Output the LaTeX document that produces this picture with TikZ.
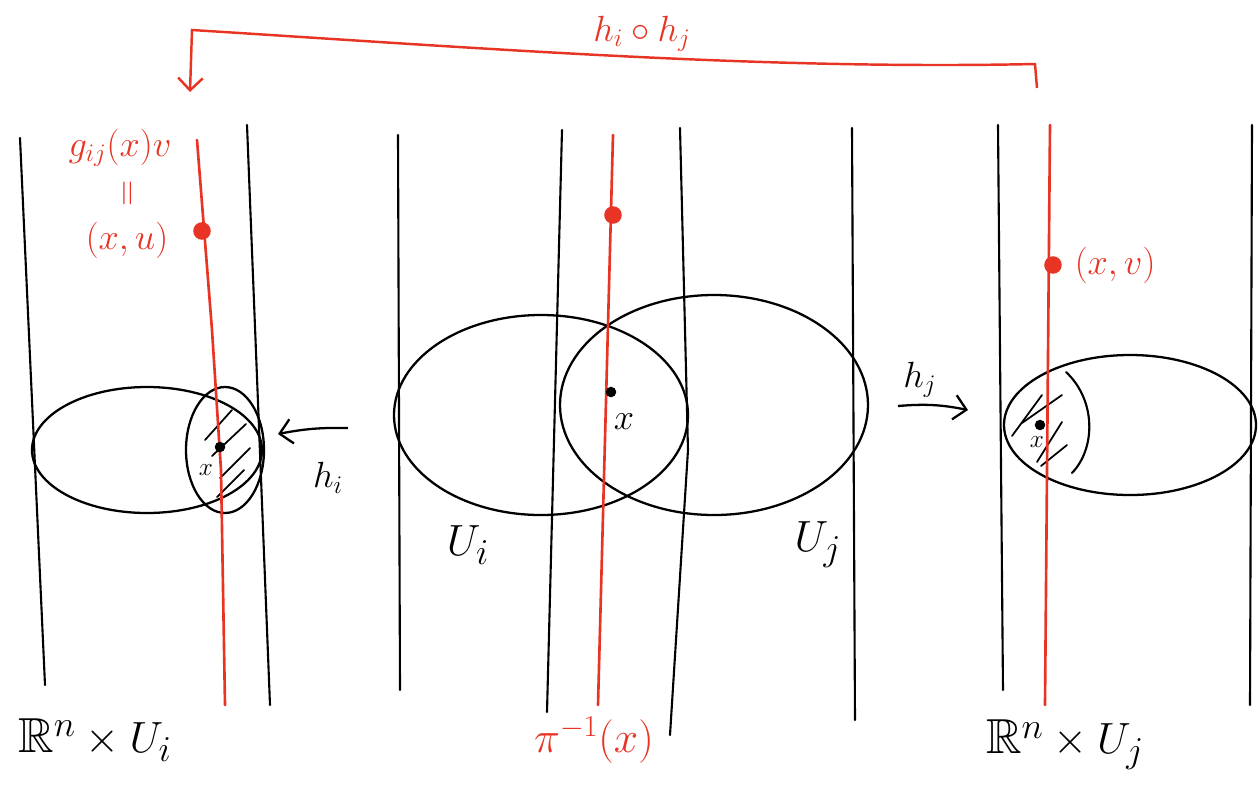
\documentclass[tikz,border=0pt]{standalone}
\usepackage{amssymb}
\usepackage{graphicx}
\definecolor{Mirojo}{RGB}{232,52,36}
\usetikzlibrary{arrows.meta, calc, positioning}

\begin{document}
\begin{tikzpicture}[
  x=0.02cm, y=-0.02cm,
  font=\fontsize{22}{26}\selectfont,
  fibra/.style={line width=1.2pt, line cap=round},
  rfibra/.style={Mirojo, line width=1.5pt, line cap=round},
  abierto/.style={draw, line width=1.3pt},
  rpunto/.style={circle, fill=Mirojo, inner sep=0pt, minimum size=10pt},
  npunto/.style={circle, fill=black, inner sep=0pt, minimum size=6pt},
  rayas/.style={line width=1pt, line cap=round},
  arr/.style={-{Straight Barb[length=7pt, width=14pt]}, line width=1.3pt},
  rarr/.style={-{Straight Barb[length=7pt, width=14pt]}, Mirojo, line width=1.4pt},
  rlbl/.style={text=Mirojo, inner sep=1pt},
  lbl/.style={inner sep=1pt},
  grande/.style={font=\fontsize{28}{32}\selectfont},
  chico/.style={font=\fontsize{15}{18}\selectfont}
]
\useasboundingbox (0,0) rectangle (1259,789);

%% ——— Panel izquierdo: R^n x U_i ———
\coordinate (L1t) at (20,138);  \coordinate (L1b) at (45,685);
\coordinate (L2t) at (247,125); \coordinate (L2b) at (270,705);
\draw[fibra] (L1t) -- (L1b);
\draw[fibra] (L2t) -- (L2b);

\draw[abierto] (147,450) ellipse [x radius=115, y radius=63];
\draw[abierto] (225,450) ellipse [x radius=39, y radius=63];
\draw[rayas] (205,440) -- (232,410);
\draw[rayas] (212,456) -- (246,424);
\draw[rayas] (220,478) -- (250,448);
\draw[rayas] (217,497) -- (244,470);

\coordinate (Rit) at (197,140); \coordinate (Rib) at (225,705);
\draw[rfibra] (Rit) -- (212,330) -- (221,470) -- (Rib);
\node[rpunto] (pi) at (202,231) {};
\node[npunto] (xi) at (220,447) {};
\node[lbl, chico] (xil) at (206,470) {$x$};

\node[rlbl] (gij) at (120,148) {$g_{ij}(x)v$};
\node[rlbl] (igual) at (130,193) {\rotatebox{90}{$=$}};
\node[rlbl] (xu) at (127,240) {$(x,u)$};

\node[lbl, grande] (RUi) at (95,740) {$\mathbb{R}^n\times U_i$};

%% h_i
\coordinate (hia) at (348,428);
\coordinate (hib) at (278,434);
\draw[arr] (hia) to[bend right=6] (hib);
\node[lbl] (hi) at (328,478) {$h_i$};

%% ——— Panel central ———
\coordinate (M1t) at (398,135); \coordinate (M1b) at (400,690);
\coordinate (M2t) at (562,130); \coordinate (M2b) at (547,712);
\coordinate (M3t) at (680,128); \coordinate (M3b) at (670,735);
\coordinate (M4t) at (852,128); \coordinate (M4b) at (855,720);
\draw[fibra] (M1t) -- (M1b);
\draw[fibra] (M2t) -- (M2b);
\draw[fibra] (M3t) -- (688,450) -- (M3b);
\draw[fibra] (M4t) -- (M4b);

\draw[abierto] (541,415) ellipse [x radius=147, y radius=100];
\draw[abierto] (714,405) ellipse [x radius=154, y radius=110];

\coordinate (Rmt) at (613,135); \coordinate (Rmb) at (598,705);
\draw[rfibra] (Rmt) -- (Rmb);
\node[rpunto] (pm) at (613,215) {};
\node[npunto] (xm) at (611,392) {};
\node[lbl] (xml) at (624,422) {$x$};

\node[lbl, grande] (Ui) at (468,545) {$U_i$};
\node[lbl, grande] (Uj) at (818,545) {$U_j$};
\node[rlbl, font=\fontsize{25}{30}\selectfont] (pinv) at (594,740) {$\pi^{-1}(x)$};

%% h_j
\coordinate (hja) at (898,406);
\coordinate (hjb) at (968,410);
\draw[arr] (hja) to[bend left=8] (hjb);
\node[lbl] (hj) at (920,380) {$h_j$};

%% ——— Panel derecho: R^n x U_j ———
\coordinate (R1t) at (998,125);  \coordinate (R1b) at (1003,690);
\coordinate (R2t) at (1252,125); \coordinate (R2b) at (1250,705);
\draw[fibra] (R1t) -- (R1b);
\draw[fibra] (R2t) -- (R2b);

\draw[abierto] (1130,425) ellipse [x radius=126, y radius=70];
\draw[line width=1.2pt, line cap=round] (1066,372) .. controls (1096,400) and (1096,448) .. (1072,473);
\draw[rayas] (1012,436) -- (1042,395);
\draw[rayas] (1022,423) -- (1062,395);
\draw[rayas] (1037,462) -- (1062,422);
\draw[rayas] (1041,466) -- (1067,445);

\coordinate (Rjt) at (1050,125); \coordinate (Rjb) at (1045,705);
\draw[rfibra] (Rjt) -- (Rjb);
\node[rpunto] (pj) at (1053,265) {};
\node[npunto] (xj) at (1040,425) {};
\node[lbl, chico] (xjl) at (1037,442) {$x$};
\node[rlbl, right=6pt of pj] (xv) {$(x,v)$};

\node[lbl, grande] (RUj) at (1065,745) {$\mathbb{R}^n\times U_j$};

%% ——— Cambio de carta ———
\coordinate (ta) at (1037,88);
\coordinate (tb) at (1035,64);
\coordinate (tc) at (192,30);
\coordinate (td) at (190,92);
\draw[rarr] (ta) -- (tb) .. controls (760,70) and (480,48) .. (tc) -- (td);
\node[rlbl] (hij) at (642,34) {$h_i\circ h_j$};

\end{tikzpicture}
\end{document}
